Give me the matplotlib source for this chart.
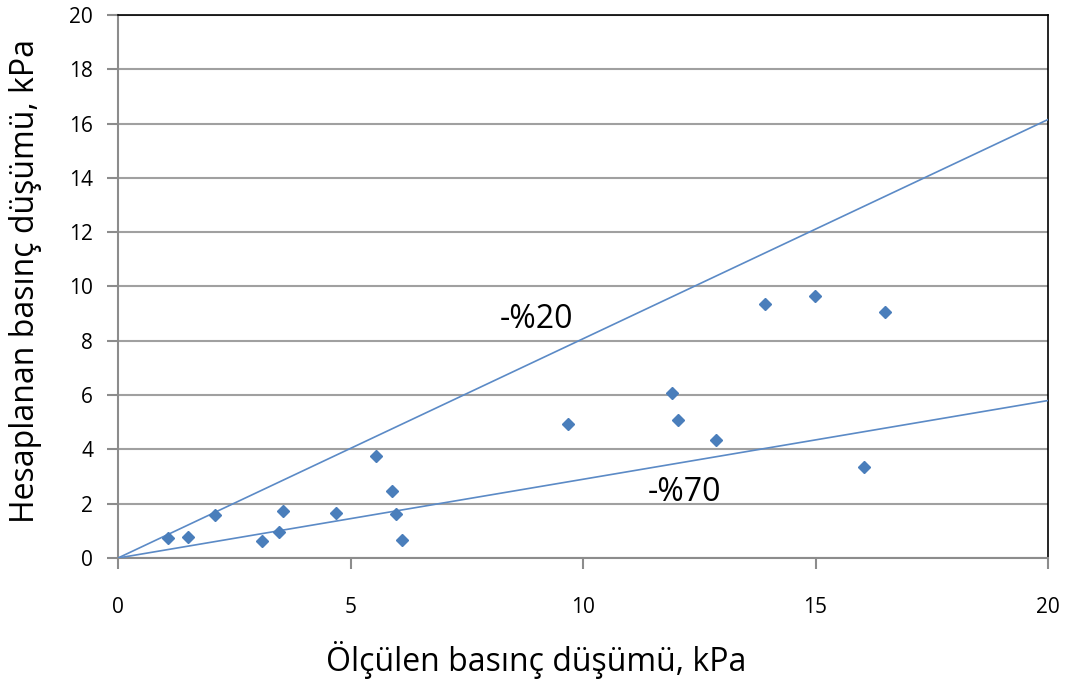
import matplotlib.pyplot as plt

measured = [1.08, 1.50, 2.09, 3.10, 3.46, 3.55, 4.69, 5.55, 5.89, 5.98, 6.11,
            9.68, 11.91, 12.04, 12.86, 13.91, 14.99, 16.49, 16.04]
computed = [0.74, 0.77, 1.58, 0.63, 0.96, 1.73, 1.66, 3.76, 2.47, 1.62, 0.66,
            4.94, 6.08, 5.08, 4.35, 9.36, 9.65, 9.06, 3.35]

# reference lines from origin to the right edge
line_x = [0, 20]
upper_y = [0, 16.15]
lower_y = [0, 5.8]

plt.rcParams['font.family'] = ['Open Sans', 'DejaVu Sans']

fig = plt.figure(figsize=(10.67, 6.81), dpi=100)
ax = fig.add_axes([0.1106, 0.1806, 0.8716, 0.7974])

blue = '#4a7ebb'
ax.plot(line_x, upper_y, color='#5b8ac6', lw=1.2, zorder=3)
ax.plot(line_x, lower_y, color='#5b8ac6', lw=1.2, zorder=3)
ax.plot(measured, computed, 'D', color=blue, markersize=6.5, zorder=4)

ax.text(9.01, 8.77, '-%20', fontsize=23, ha='center', va='center')
ax.text(12.19, 2.43, '-%70', fontsize=23, ha='center', va='center')

ax.set_xlim(0, 20)
ax.set_ylim(0, 20)
ax.set_xticks([0, 5, 10, 15, 20])
ax.set_yticks(range(0, 21, 2))
ax.yaxis.grid(True, color='#a0a0a0', lw=1.5)
ax.set_axisbelow(True)

for s in ['left', 'bottom']:
    ax.spines[s].set_color('#8c8c8c')
    ax.spines[s].set_linewidth(1.5)
for s in ['top', 'right']:
    ax.spines[s].set_color('black')
    ax.spines[s].set_linewidth(1.2)

ax.tick_params(axis='both', direction='out', length=8, width=1.5,
               color='#8c8c8c', labelsize=15)
ax.tick_params(axis='y', pad=10)
ax.tick_params(axis='x', pad=20)

ax.set_xlabel('Ölçülen basınç düşümü, kPa', fontsize=23)
ax.set_ylabel('Hesaplanan basınç düşümü, kPa', fontsize=23)
ax.xaxis.set_label_coords(0.45, -0.188)
ax.yaxis.set_label_coords(-0.1, 0.51)
ax.xaxis.label.set_va('center')
ax.yaxis.label.set_va('center')

fig.savefig('out.png', dpi=100)
